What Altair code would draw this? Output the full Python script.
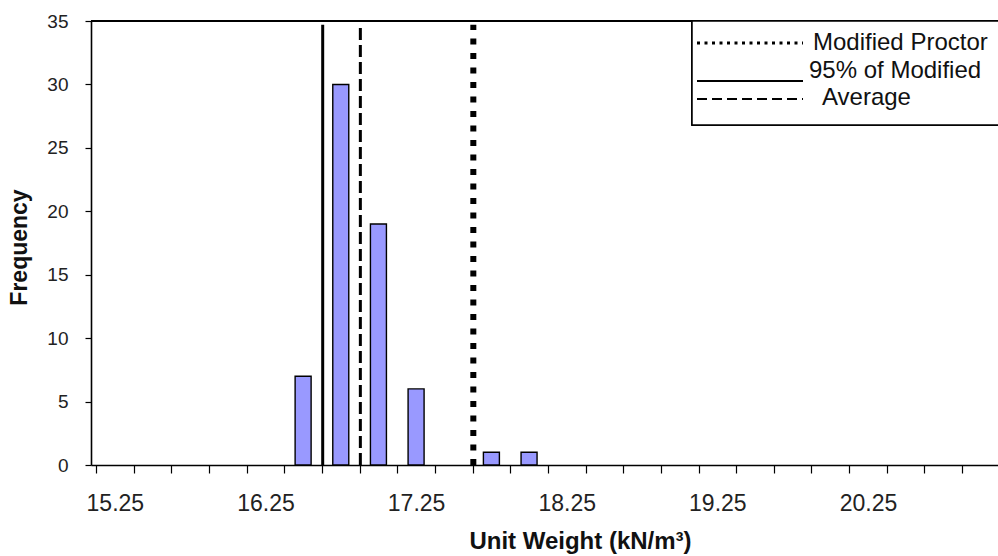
import altair as alt
import pandas as pd

# Histogram of unit weight (bins 0.25 kN/m3 wide, labelled by bin centre)
bin_centers = [16.5, 16.75, 17.0, 17.25, 17.75, 18.0]
frequency = [7, 30, 19, 6, 1, 1]

# Reference lines
ref_names = ["Modified Proctor", "95% of Modified", "Average"]
ref_values = [17.63, 16.63, 16.88]
ref_top = 34.7

# Axis labels (every fourth bin) and bin boundaries for tick marks
tick_labels = [15.25, 16.25, 17.25, 18.25, 19.25, 20.25]
bin_edges = [15.125 + 0.25 * k for k in range(24)]
y_ticks = [0, 5, 10, 15, 20, 25, 30, 35]

FONT = "Liberation Sans"
W, H = 907, 444
X_DOMAIN = [15.125, 21.08]

bars_df = pd.DataFrame({"center": bin_centers, "freq": frequency})
refs_df = pd.DataFrame({"name": ref_names, "value": ref_values,
                        "bottom": [0] * 3, "top": [ref_top] * 3})

x_scale = alt.Scale(domain=X_DOMAIN, nice=False, zero=False)
y_scale = alt.Scale(domain=[0, 35], nice=False)

x_axis = alt.Axis(
    values=sorted(bin_edges + tick_labels),
    labelExpr="(datum.value - 15.25) % 1 == 0 ? format(datum.value, '.2f') : ''",
    tickOpacity={"condition": {"test": "(datum.value * 8) % 2 == 1", "value": 1}, "value": 0},
    tickSize=8, tickColor="black", tickWidth=1.2,
    labelFont=FONT, labelFontSize=23, labelColor="#222",
    labelBaseline="alphabetic", labelPadding=37,
    labelOverlap=False, labelFlush=False, labelBound=False,
    domainColor="black", domainWidth=1.6, grid=False,
    title="Unit Weight (kN/m³)", titleFont=FONT, titleFontSize=24,
    titleFontWeight="bold", titleColor="#111",
    titleX=489, titleY=83, titleBaseline="alphabetic", titleAlign="center",
)
y_axis = alt.Axis(
    values=y_ticks, tickSize=6, tickColor="black", tickWidth=1.2,
    labelFont=FONT, labelFontSize=19, labelColor="#222", labelPadding=17,
    labelOverlap=False,
    domainColor="black", domainWidth=1.6, grid=False,
    title="Frequency", titleFont=FONT, titleFontSize=23,
    titleFontWeight="bold", titleColor="#111",
    titleX=-72, titleY=226, titleAngle=-90, titleAlign="center",
    titleBaseline="middle",
)

bars = alt.Chart(bars_df).mark_bar(
    size=16, fill="#9999ff", stroke="black", strokeWidth=1.4
).encode(
    x=alt.X("center:Q", scale=x_scale, axis=x_axis),
    y=alt.Y("freq:Q", scale=y_scale, axis=y_axis),
)

line_styles = {
    "Modified Proctor": dict(strokeWidth=6, strokeDash=[6, 8.5]),
    "95% of Modified": dict(strokeWidth=3),
    "Average": dict(strokeWidth=3, strokeDash=[12, 5]),
}
ref_layers = []
for name, style in line_styles.items():
    ref_layers.append(
        alt.Chart(refs_df).transform_filter(alt.datum.name == name)
        .mark_rule(color="black", strokeCap="butt", **style)
        .encode(x=alt.X("value:Q", scale=x_scale, axis=x_axis),
                y=alt.Y("bottom:Q", scale=y_scale, axis=y_axis), y2="top:Q")
    )

# Plot frame top edge
frame_top = alt.Chart(bars_df).mark_rule(color="black", strokeWidth=1.6).encode(
    x=alt.value(0), x2=alt.value(W), y=alt.value(0)
)

# Legend box in the upper right
LX, LY = 601, 0
legend_df = pd.DataFrame({"name": ref_names})
legend_box = alt.Chart(legend_df).mark_rect(
    fill="white", stroke="black", strokeWidth=1.5
).encode(x=alt.value(LX), x2=alt.value(W + 20), y=alt.value(LY), y2=alt.value(104))

legend_line_styles = [
    ("Modified Proctor", 22, dict(strokeWidth=3, strokeDash=[3, 4.5])),
    ("95% of Modified", 60, dict(strokeWidth=2)),
    ("Average", 78, dict(strokeWidth=2, strokeDash=[10, 5])),
]
legend_lines = []
for name, ly, style in legend_line_styles:
    legend_lines.append(
        alt.Chart(legend_df).transform_filter(alt.datum.name == name)
        .mark_rule(color="black", strokeCap="butt", **style)
        .encode(x=alt.value(LX + 5), x2=alt.value(LX + 111), y=alt.value(ly))
    )

legend_text_pos = {"Modified Proctor": (722, 22), "95% of Modified": (718, 50),
                   "Average": (731, 77)}
legend_texts = []
for name, (tx, ty) in legend_text_pos.items():
    legend_texts.append(
        alt.Chart(legend_df).transform_filter(alt.datum.name == name)
        .mark_text(font=FONT, fontSize=24, align="left", baseline="middle", color="#111")
        .encode(x=alt.value(tx), y=alt.value(ty), text="name:N")
    )

chart = alt.layer(
    bars, *ref_layers, frame_top, legend_box, *legend_lines, *legend_texts
).properties(
    width=W, height=H,
    autosize=alt.AutoSizeParams(type="none"),
    padding={"left": 91, "top": 21, "right": 0, "bottom": 91},
    background="white",
).configure_view(stroke=None)

chart.save("out.html", embed_options={"renderer": "svg", "actions": False})
